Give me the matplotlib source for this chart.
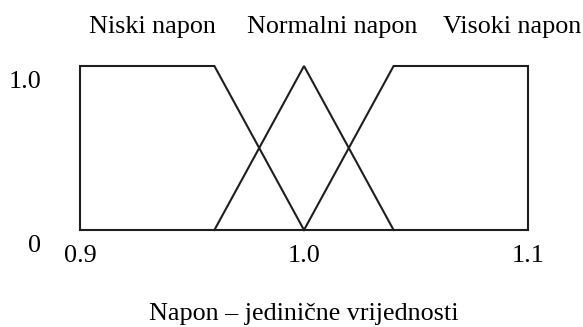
import matplotlib.pyplot as plt
import matplotlib.transforms as mtransforms

plt.rcParams['font.family'] = ['Liberation Serif', 'DejaVu Serif']

# membership functions for voltage (p.u.)
sets = ['Niski napon', 'Normalni napon', 'Visoki napon']
low_x = [0.9, 0.9, 0.96, 1.0]
low_mu = [0, 1, 1, 0]
norm_x = [0.96, 1.0, 1.04]
norm_mu = [0, 1, 0]
high_x = [1.0, 1.04, 1.1, 1.1]
high_mu = [0, 1, 1, 0]
x_ticks = [0.9, 1.0, 1.1]
x_ticklabels = ['0.9', '1.0', '1.1']
mu_ticks = [0, 1]
mu_ticklabels = ['0', '1.0']

fs = 18.8
ink = '#1e1e1e'

fig = plt.figure(figsize=(5.83, 3.27), dpi=100)
ax = fig.add_axes([80 / 583, 1 - 230 / 327, 448 / 583, 164 / 327])

kw = dict(color=ink, lw=1.5, clip_on=False, solid_joinstyle='miter')
ax.plot(low_x, low_mu, **kw)
ax.plot(norm_x, norm_mu, **kw)
ax.plot(high_x, high_mu, **kw)
ax.plot([low_x[0], high_x[-1]], [0, 0], **kw)

ax.set_xlim(x_ticks[0], x_ticks[-1])
ax.set_ylim(0, 1)
for s in ax.spines.values():
    s.set_visible(False)

ax.set_xticks(x_ticks)
ax.set_xticklabels(x_ticklabels, fontsize=fs)
ax.set_yticks(mu_ticks)
ax.set_yticklabels(mu_ticklabels, fontsize=fs)
ax.tick_params(axis='x', length=0, pad=11)
ax.tick_params(axis='y', length=0, pad=28)

# y labels sit a bit below their levels
shift = mtransforms.ScaledTranslation(0, -0.13, fig.dpi_scale_trans)
for lab in ax.get_yticklabels():
    lab.set_transform(lab.get_transform() + shift)

ax.set_xlabel('Napon – jedinične vrijednosti', fontsize=fs, labelpad=26)

# names of the fuzzy sets in a row above the plot
for name, xc in zip(sets, [152 / 583, 332 / 583, 512 / 583]):
    fig.text(xc, 1 - 33 / 327, name, fontsize=fs, ha='center', va='baseline')

fig.savefig('out.png', dpi=100)
